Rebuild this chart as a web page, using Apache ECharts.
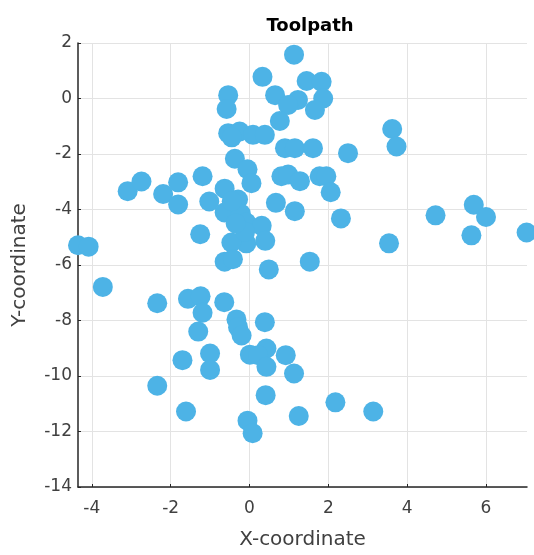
<!DOCTYPE html>
<html>
<head>
<meta charset="utf-8">
<script src="https://cdn.jsdelivr.net/npm/echarts@6/dist/echarts.min.js"></script>
<style>html,body{margin:0;padding:0;background:#fff}#c{width:534px;height:555px}</style>
</head>
<body>
<div id="c"></div>
<script>
const titleText = 'Toolpath';
const xName = 'X-coordinate';
const yName = 'Y-coordinate';
const xTicks = [-4, -2, 0, 2, 4, 6];
const yTicks = [-14, -12, -10, -8, -6, -4, -2, 0, 2];
const xs = [
  1.13, 0.33, 1.45, 1.83, 1.87, 0.65, -0.54, -0.58, 1.23, 0.98, 1.66, 0.77,
  -0.54, -0.25, 0.09, 0.39, -0.45,
  -0.37, -0.05, 0.05, 0.90, 1.15, 1.61, 2.50, 3.62, 3.73,
  0.81, 0.98, 1.28, 1.78, 1.95, 2.06, 2.32, 0.67, 1.15,
  4.72, 5.69, 6.00, 5.63, 3.54, 7.03,
  -3.09, -2.74, -2.19, -1.81, -1.81, -1.19, -1.02, -1.25, -4.35, -4.08,
  -0.63, -0.29, -0.63, -0.22, -0.08, 0.31, 0.40, -0.08, -0.46, -0.63, -0.42, 0.49, 1.53, -0.45, -0.11, -0.35,
  -3.72, -2.34, -1.56, -1.24, -1.19, -0.64, -1.30, -0.33, -0.29, -0.20, 0.39, -1.00, -1.00, -1.70, -2.34, -1.61,
  0.01, 0.43, 0.22, 0.43, 0.92, 1.13, 0.41, 2.18, 3.14, 1.25, -0.05, 0.08
];
const ys = [
  1.58, 0.78, 0.63, 0.60, 0.00, 0.12, 0.12, -0.38, -0.05, -0.23, -0.41, -0.81,
  -1.25, -1.19, -1.31, -1.31, -1.40,
  -2.17, -2.55, -3.05, -1.79, -1.79, -1.79, -1.97, -1.10, -1.73,
  -2.80, -2.74, -2.98, -2.80, -2.80, -3.38, -4.32, -3.76, -4.06,
  -4.21, -3.83, -4.27, -4.93, -5.22, -4.83,
  -3.34, -2.99, -3.44, -3.02, -3.82, -2.80, -3.71, -4.89, -5.29, -5.34,
  -3.25, -3.64, -4.11, -4.15, -4.47, -4.59, -5.13, -5.22, -5.19, -5.88, -5.79, -6.16, -5.88, -3.70, -4.80, -4.50,
  -6.79, -7.38, -7.22, -7.13, -7.72, -7.34, -8.40, -7.96, -8.24, -8.54, -8.06, -9.19, -9.78, -9.43, -10.35, -11.28,
  -9.23, -9.01, -9.25, -9.67, -9.25, -9.91, -10.69, -10.95, -11.28, -11.44, -11.61, -12.06
];
const points = xs.map((x, i) => [x, ys[i]]);

const chart = echarts.init(document.getElementById('c'), null, {renderer: 'canvas'});
const axisColor = '#262626';
const labelColor = '#404040';
const font = 'DejaVu Sans, sans-serif';
chart.setOption({
  backgroundColor: '#ffffff',
  animation: false,
  title: {
    text: titleText,
    left: 305, top: 12, textAlign: 'center',
    textStyle: {fontFamily: font, fontSize: 18, fontWeight: 'bold', color: '#000'}
  },
  grid: {left: 78, right: 7, top: 43, bottom: 66, containLabel: false},
  xAxis: {
    type: 'value', min: -4.35, max: 7.04,
    name: xName, nameLocation: 'middle', nameGap: 43,
    nameTextStyle: {fontFamily: font, fontSize: 20, color: labelColor},
    axisLine: {show: true, onZero: false, lineStyle: {color: axisColor, width: 1.5}},
    axisTick: {show: true, inside: true, length: 3, customValues: xTicks, lineStyle: {color: axisColor}},
    axisLabel: {customValues: xTicks, fontFamily: font, fontSize: 17, color: labelColor, margin: 13},
    splitLine: {show: true, lineStyle: {color: '#e3e3e3', width: 1}}
  },
  yAxis: {
    type: 'value', min: -14, max: 2, interval: 2,
    name: yName, nameLocation: 'middle', nameGap: 48,
    nameTextStyle: {fontFamily: font, fontSize: 20, color: labelColor},
    axisLine: {show: true, onZero: false, lineStyle: {color: axisColor, width: 1.5}},
    axisTick: {show: true, inside: true, length: 3, customValues: yTicks, lineStyle: {color: axisColor}},
    axisLabel: {customValues: yTicks, fontFamily: font, fontSize: 17, color: labelColor, margin: 6},
    splitLine: {show: true, lineStyle: {color: '#e3e3e3', width: 1}}
  },
  series: [{
    type: 'scatter',
    data: points,
    symbol: 'circle',
    symbolSize: 20,
    itemStyle: {color: '#4DB3E6', opacity: 1},
    clip: false
  }]
});
</script>
</body>
</html>
